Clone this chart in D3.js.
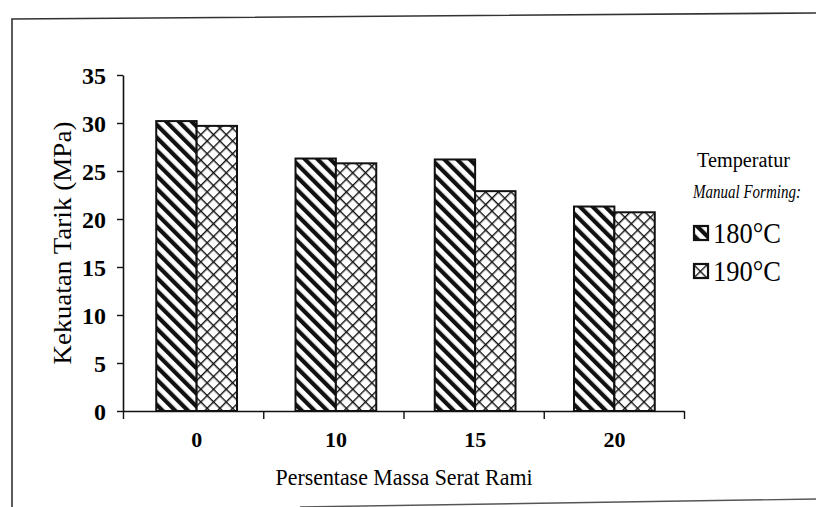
<!DOCTYPE html>
<html>
<head>
<meta charset="utf-8">
<script src="https://cdn.jsdelivr.net/npm/d3@7"></script>
<style>
  html, body { margin: 0; padding: 0; background: #fff; }
  svg { display: block; font-family: "Liberation Serif", "Times New Roman", serif; }
  .tick text { fill: #000; }
</style>
</head>
<body>
<svg id="chart" width="816" height="507"></svg>
<script>
// data
const categories = ["0", "10", "15", "20"];
const seriesNames = ["180°C", "190°C"];
const values180 = [30.2, 26.3, 26.2, 21.3];
const values190 = [29.7, 25.8, 22.9, 20.7];
const yTicks = [0, 5, 10, 15, 20, 25, 30, 35];

const svg = d3.select("#chart");

// patterns: thick back-slash stripes and thin crosshatch
const defs = svg.append("defs");
const stripe = defs.append("pattern")
  .attr("id", "pat180")
  .attr("patternUnits", "userSpaceOnUse")
  .attr("width", 9).attr("height", 9)
  .attr("patternTransform", "rotate(-45)");
stripe.append("rect").attr("width", 9).attr("height", 9).attr("fill", "#fff");
stripe.append("rect").attr("x", 0).attr("width", 4.2).attr("height", 9).attr("fill", "#111");

const hatch = defs.append("pattern")
  .attr("id", "pat190")
  .attr("patternUnits", "userSpaceOnUse")
  .attr("width", 9).attr("height", 9)
  .attr("patternTransform", "rotate(45)");
hatch.append("rect").attr("width", 9).attr("height", 9).attr("fill", "#fff");
hatch.append("rect").attr("x", 0).attr("width", 1.4).attr("height", 9).attr("fill", "#111");
hatch.append("rect").attr("y", 0).attr("width", 9).attr("height", 1.4).attr("fill", "#111");

const fills = ["url(#pat180)", "url(#pat190)"];

// outer frame (scanned page border)
svg.append("path")
  .attr("d", "M12,507 L12,19 L816,13")
  .attr("fill", "none").attr("stroke", "#333").attr("stroke-width", 1.6);
svg.append("path")
  .attr("d", "M300,507 L816,499")
  .attr("fill", "none").attr("stroke", "#555").attr("stroke-width", 1.4);

// scales
const y = d3.scaleLinear().domain([0, 35]).range([411, 75]);
const x = d3.scaleBand().domain(categories).range([127, 684])
  .paddingInner(0.42).paddingOuter(0.21);
const xs = d3.scaleBand().domain(seriesNames).range([0, x.bandwidth()]);
const xEdge = d3.scaleLinear().domain([0, 4]).range([123, 684]);

// bars
const rows = categories.map((c, i) => ({ cat: c, vals: [values180[i], values190[i]] }));
const groups = svg.append("g").selectAll("g").data(rows).join("g")
  .attr("transform", d => `translate(${x(d.cat)},0)`);
groups.selectAll("rect")
  .data(d => d.vals.map((v, j) => ({ name: seriesNames[j], v, j })))
  .join("rect")
  .attr("x", d => xs(d.name))
  .attr("y", d => y(d.v))
  .attr("width", xs.bandwidth())
  .attr("height", d => y(0) - y(d.v))
  .attr("fill", d => fills[d.j])
  .attr("stroke", "#111")
  .attr("stroke-width", 2);

// y axis
const yAxis = svg.append("g").attr("transform", "translate(123,0)")
  .call(d3.axisLeft(y).tickValues(yTicks).tickSize(6).tickSizeOuter(0).tickPadding(11));
yAxis.select(".domain").attr("stroke", "#111").attr("stroke-width", 1.6);
yAxis.selectAll(".tick line").attr("stroke", "#111").attr("stroke-width", 1.4);
yAxis.selectAll(".tick text")
  .attr("font-family", "Liberation Serif").attr("font-weight", "bold").attr("font-size", 24)
  .attr("dy", "0.36em");

// x axis: band boundary ticks
const xAxis = svg.append("g").attr("transform", "translate(0,411)")
  .call(d3.axisBottom(xEdge).ticks(4).tickSize(8).tickSizeOuter(0).tickFormat(""));
xAxis.select(".domain").attr("stroke", "#111").attr("stroke-width", 1.6);
xAxis.selectAll(".tick line").attr("stroke", "#111").attr("stroke-width", 1.4);

// x axis: category labels
const xLab = svg.append("g").attr("transform", "translate(0,411)")
  .call(d3.axisBottom(x).tickSize(0).tickPadding(20));
xLab.select(".domain").remove();
xLab.selectAll(".tick text")
  .attr("font-family", "Liberation Serif").attr("font-weight", "bold").attr("font-size", 22);

// axis titles
svg.append("text")
  .attr("x", 404).attr("y", 485)
  .attr("text-anchor", "middle")
  .attr("font-size", 23).attr("fill", "#000")
  .attr("textLength", 257).attr("lengthAdjust", "spacingAndGlyphs")
  .text("Persentase Massa Serat Rami");

svg.append("text")
  .attr("transform", "translate(71,243) rotate(-90)")
  .attr("text-anchor", "middle")
  .attr("font-size", 26).attr("fill", "#000")
  .attr("textLength", 243).attr("lengthAdjust", "spacingAndGlyphs")
  .text("Kekuatan Tarik (MPa)");

// legend
const legend = svg.append("g");
legend.append("text").attr("x", 697).attr("y", 167)
  .attr("font-size", 20).attr("fill", "#000")
  .attr("textLength", 93).attr("lengthAdjust", "spacingAndGlyphs")
  .text("Temperatur");
legend.append("text")
  .attr("transform", "translate(693,198) scale(0.79,1)")
  .attr("font-size", 19).attr("font-style", "italic")
  .attr("fill", "#000")
  .text("Manual Forming:");

const items = legend.selectAll("g.item").data(seriesNames).join("g")
  .attr("class", "item")
  .attr("transform", (d, i) => `translate(694,${226 + i * 38})`);
items.append("rect")
  .attr("width", 14).attr("height", 14)
  .attr("fill", (d, i) => fills[i])
  .attr("stroke", "#111").attr("stroke-width", 2.2);
items.append("text")
  .attr("x", 19).attr("y", 17)
  .attr("font-size", 29).attr("fill", "#000")
  .attr("textLength", 68).attr("lengthAdjust", "spacingAndGlyphs")
  .text(d => d);
</script>
</body>
</html>
